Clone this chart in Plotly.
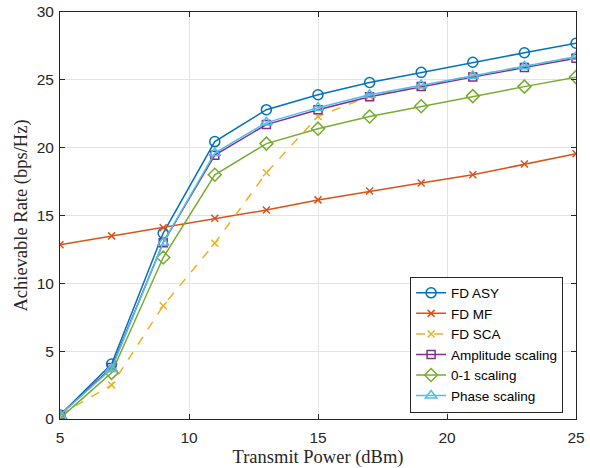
import plotly.graph_objects as go

power = [5, 7, 9, 11, 13, 15, 17, 19, 21, 23, 25]
fd_asy = [0.3, 4.05, 13.7, 20.45, 22.8, 23.9, 24.8, 25.55, 26.3, 27.0, 27.7]
fd_mf = [12.85, 13.5, 14.1, 14.8, 15.4, 16.15, 16.8, 17.4, 18.0, 18.8, 19.55]
fd_sca = [0.3, 2.5, 8.35, 12.95, 18.15, 22.3, 23.8, 24.5, 25.3, 26.0, 26.7]
amp_scaling = [0.3, 3.8, 13.0, 19.45, 21.7, 22.8, 23.75, 24.5, 25.2, 25.9, 26.6]
zero_one = [0.05, 3.4, 11.9, 18.0, 20.3, 21.4, 22.3, 23.05, 23.8, 24.5, 25.2]
phase_scaling = [0.3, 3.7, 13.0, 19.6, 21.85, 22.95, 23.9, 24.6, 25.3, 26.0, 26.7]

names = ["FD ASY", "FD MF", "FD SCA", "Amplitude scaling", "0-1 scaling", "Phase scaling"]
series = [fd_asy, fd_mf, fd_sca, amp_scaling, zero_one, phase_scaling]
colors = ["#0072BD", "#D95319", "#EDB120", "#7E2F8E", "#77AC30", "#4DBEEE"]
symbols = ["circle-open", "x-thin-open", "x-thin-open", "square-open", "diamond-open", "triangle-up-open"]
sizes = [10, 7, 7, 8, 10, 10]
dashes = ["solid", "solid", "dash", "solid", "solid", "solid"]

fig = go.Figure()
for n, s, c, sym, sz, d in zip(names, series, colors, symbols, sizes, dashes):
    fig.add_trace(go.Scatter(
        x=power, y=s, name=n, mode="lines+markers",
        line=dict(color=c, width=1.5, dash=d),
        marker=dict(symbol=sym, size=sz, color=c, line=dict(color=c, width=1.5)),
    ))

axis_common = dict(
    showline=True, linecolor="#262626", linewidth=1, mirror="ticks",
    ticks="inside", ticklen=5, tickcolor="#262626", automargin=False,
    showgrid=True, gridcolor="#E3E3E3", gridwidth=1, zeroline=False,
    tickfont=dict(family="Liberation Sans, Arial", size=15.5, color="#262626"),
)
fig.update_xaxes(range=[5, 25], dtick=5, ticklabelstandoff=4,
                 title=dict(text="Transmit Power (dBm)",
                            font=dict(family="Liberation Serif, Times New Roman", size=18.5, color="#262626"),
                            standoff=5),
                 **axis_common)
fig.update_yaxes(range=[0, 30], dtick=5, ticklabelstandoff=2,
                 title=dict(text="Achievable Rate (bps/Hz)",
                            font=dict(family="Liberation Serif, Times New Roman", size=18.5, color="#262626"),
                            standoff=4),
                 **axis_common)

fig.update_layout(
    width=590, height=468,
    margin=dict(l=60, r=14, t=12, b=49),
    plot_bgcolor="white", paper_bgcolor="white",
    legend=dict(x=0.975, y=0.35, xanchor="right", yanchor="top",
                bgcolor="white", bordercolor="#262626", borderwidth=1,
                font=dict(family="Liberation Sans, Arial", size=13.5, color="#000000"),
                tracegroupgap=0, entrywidth=170),
)

fig.write_html("out.html", config={"displayModeBar": False},
               post_script="document.body.style.margin='0';")
